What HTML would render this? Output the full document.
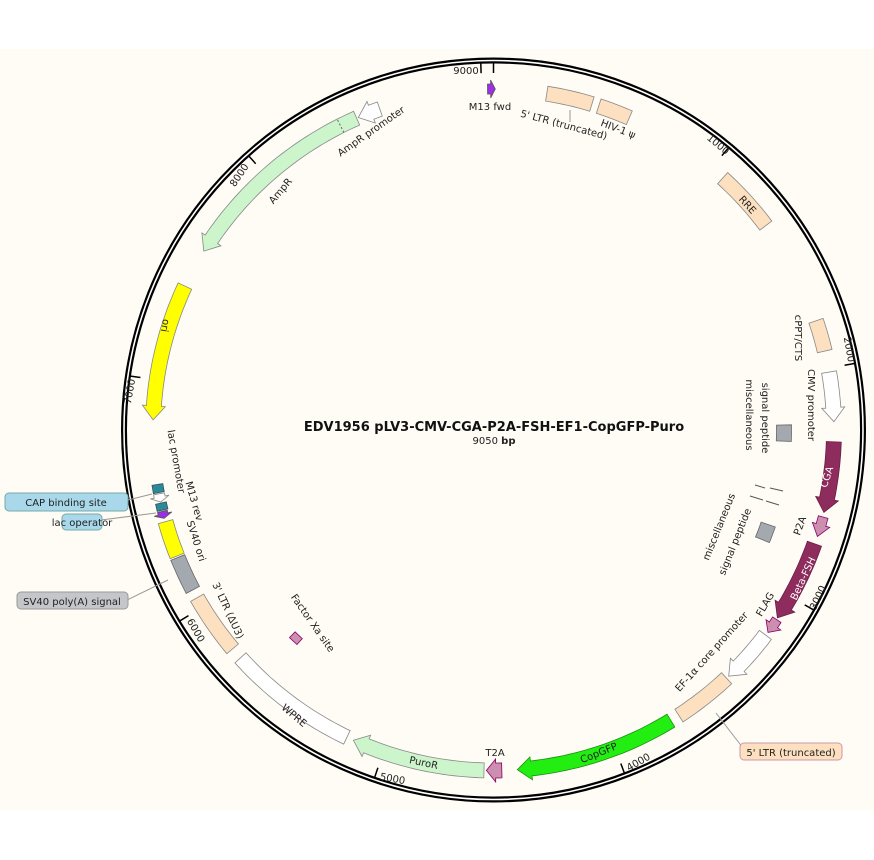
<!DOCTYPE html>
<html><head><meta charset="utf-8">
<style>
html,body{margin:0;padding:0;background:#fff;}
svg{display:block;}
text{font-family:"DejaVu Sans","Liberation Sans",sans-serif;font-size:10px;fill:#222;}
.w{fill:#fff;}
</style></head>
<body>
<svg id="s" width="874" height="860" viewBox="0 0 874 860" xmlns="http://www.w3.org/2000/svg">
<rect x="0" y="49" width="874" height="761" fill="#fffcf5"/>
<circle cx="493.5" cy="430" r="369.5" fill="none" stroke="#000" stroke-width="6"/>
<circle cx="493.5" cy="430" r="369.5" fill="none" stroke="#fff" stroke-width="1.6"/>
<g id="shapes"></g>
<g id="ticks" stroke="#000" stroke-width="1.5"></g>
<g stroke="#999" stroke-width="1" fill="none">
<line x1="128" y1="500" x2="152" y2="494"/>
<line x1="101" y1="520" x2="156" y2="513"/>
<line x1="127" y1="600" x2="168" y2="580"/>
<line x1="743" y1="748" x2="716" y2="713"/>
<line x1="570" y1="110" x2="570" y2="122"/>
</g>
<rect x="5" y="493" width="123" height="18" rx="4" fill="#a8d8ea" stroke="#7aa" />
<text x="66" y="506" text-anchor="middle">CAP binding site</text>
<rect x="62" y="514" width="40" height="16" rx="4" fill="#a8d8ea" stroke="#7aa"/>
<text x="82" y="526" text-anchor="middle">lac operator</text>
<rect x="17" y="592" width="111" height="17" rx="4" fill="#c4c6c9" stroke="#999"/>
<text x="72" y="605" text-anchor="middle">SV40 poly(A) signal</text>
<rect x="740" y="743" width="102" height="17" rx="4" fill="#fde0c0" stroke="#c9a"/>
<text x="791" y="756" text-anchor="middle">5' LTR (truncated)</text>

<text x="466" y="74" text-anchor="middle">9000</text>
<text x="490" y="110" text-anchor="middle">M13 fwd</text>
<text x="563" y="128" text-anchor="middle" transform="rotate(15 563 128)">5' LTR (truncated)</text>
<text x="617" y="132" text-anchor="middle" transform="rotate(21 617 132)">HIV-1 ψ</text>
<text x="716" y="147" text-anchor="middle" transform="rotate(40 716 147)">1000</text>
<text x="745" y="207" text-anchor="middle" transform="rotate(48 745 207)">RRE</text>
<text x="795" y="338" text-anchor="middle" transform="rotate(90 795 338)">cPPT/CTS</text>
<text x="846" y="350" text-anchor="middle" transform="rotate(80 846 350)">2000</text>
<text x="808" y="405" text-anchor="middle" transform="rotate(90 808 405)">CMV promoter</text>
<text x="762" y="418" text-anchor="middle" transform="rotate(90 762 418)">signal peptide</text>
<text x="746" y="415" text-anchor="middle" transform="rotate(90 746 415)">miscellaneous</text>
<text x="830" y="478" text-anchor="middle" class="w" transform="rotate(-72 830 478)">CGA</text>
<text x="803" y="527" text-anchor="middle" transform="rotate(-70 803 527)">P2A</text>
<text x="722" y="528" text-anchor="middle" transform="rotate(-68 722 528)">miscellaneous</text>
<text x="738" y="543" text-anchor="middle" transform="rotate(-68 738 543)">signal peptide</text>
<text x="806" y="580" text-anchor="middle" class="w" transform="rotate(-65 806 580)">Beta-FSH</text>
<text x="821" y="599" text-anchor="middle" transform="rotate(-65 821 599)">3000</text>
<text x="768" y="606" text-anchor="middle" transform="rotate(-60 768 606)">FLAG</text>
<text x="714" y="654" text-anchor="middle" transform="rotate(-48 714 654)">EF-1α core promoter</text>
<text x="640" y="765" text-anchor="middle" transform="rotate(-30 640 765)">4000</text>
<text x="600" y="756" text-anchor="middle" transform="rotate(-22 600 756)">CopGFP</text>
<text x="495" y="756" text-anchor="middle">T2A</text>
<text x="423" y="766" text-anchor="middle" transform="rotate(12 423 766)">PuroR</text>
<text x="392" y="782" text-anchor="middle" transform="rotate(10 392 782)">5000</text>
<text x="292" y="718" text-anchor="middle" transform="rotate(40 292 718)">WPRE</text>
<text x="310" y="625" text-anchor="middle" transform="rotate(55 310 625)">Factor Xa site</text>
<text x="193" y="632" text-anchor="middle" transform="rotate(60 193 632)">6000</text>
<text x="225" y="612" text-anchor="middle" transform="rotate(65 225 612)">3' LTR (ΔU3)</text>
<text x="193" y="542" text-anchor="middle" transform="rotate(72 193 542)">SV40 ori</text>
<text x="191" y="502" text-anchor="middle" transform="rotate(74 191 502)">M13 rev</text>
<text x="173" y="462" text-anchor="middle" transform="rotate(80 173 462)">lac promoter</text>
<text x="133" y="392" text-anchor="middle" transform="rotate(-80 133 392)">7000</text>
<text x="162" y="325" text-anchor="middle" transform="rotate(100 162 325)">ori</text>
<text x="283" y="193" text-anchor="middle" transform="rotate(-50 283 193)">AmpR</text>
<text x="242" y="177" text-anchor="middle" transform="rotate(-56 242 177)">8000</text>
<text x="373" y="134" text-anchor="middle" transform="rotate(-35 373 134)">AmpR promoter</text>

<text x="494" y="431" text-anchor="middle" style="font-size:13px;font-weight:bold;fill:#111">EDV1956 pLV3-CMV-CGA-P2A-FSH-EF1-CopGFP-Puro</text>
<text x="494" y="444" text-anchor="middle" style="font-size:10px">9050 <tspan font-weight="bold">bp</tspan></text>
</svg>
<script>
var cx=493.5,cy=430;
function P(a,r){var t=a*Math.PI/180;return [(cx+r*Math.sin(t)).toFixed(1),(cy-r*Math.cos(t)).toFixed(1)];}
function arcpts(a1,a2,r){var p=[],n=Math.max(2,Math.ceil(Math.abs(a2-a1)));for(var i=0;i<=n;i++)p.push(P(a1+(a2-a1)*i/n,r));return p;}
function feat(a1,a2,r1,r2,fill,dir,stroke){
 var hl=Math.min(Math.abs(a2-a1)*0.6,(14/((r1+r2)/2))*180/Math.PI);
 var pts=[];
 if(dir==0){pts=arcpts(a1,a2,r2).concat(arcpts(a2,a1,r1));}
 else if(dir==1){var b=a2-hl;pts=arcpts(a1,b,r2);pts.push(P(b,r2+4));pts.push(P(a2,(r1+r2)/2));pts.push(P(b,r1-4));pts=pts.concat(arcpts(b,a1,r1));}
 else {var b=a1+hl;pts=arcpts(b,a2,r2).concat(arcpts(a2,b,r1));pts.push(P(b,r1-4));pts.push(P(a1,(r1+r2)/2));pts.push(P(b,r2+4));}
 var d="M"+pts.map(function(p){return p.join(",")}).join("L")+"Z";
 return '<path d="'+d+'" fill="'+fill+'" stroke="'+(stroke||"#888")+'" stroke-width="0.8"/>';
}
var R1=333,R2=348,s="";
var pe="#fde0c0",gr="#a4a9b0",mr="#8e2c5e",pk="#cc8fb0";
s+=feat(-1,0.3,336,346,"#9b30e0",1,"#555");
s+=feat(9,16.8,R1,R2,pe,0);
s+=feat(18,23.5,R1,R2,pe,0);
s+=feat(42.3,53.1,R1,R2,pe,0);
s+=feat(71.3,76.6,R1,R2,pe,0);
s+=feat(80.2,88.6,R1,R2,"#fff",1);
s+=feat(89,92.2,283,298,gr,0,"#666");
s+=feat(109,112.2,283,298,gr,0,"#666");
s+=feat(92,104,R1,R2,mr,1,"#6a1f45");
s+=feat(104.8,108.2,336,346,pk,1,"#806");
s+=feat(109.5,123.5,R1,R2,mr,1,"#6a1f45");
s+=feat(123.8,126.4,336,346,pk,1,"#806");
s+=feat(127,136.3,R1,R2,"#fff",1);
s+=feat(136.8,147,R1,R2,pe,0);
s+=feat(148.6,176,R1,R2,"#22ee11",1,"#1a9010");
s+=feat(178.6,181.2,R1,R2,pk,1,"#806");
s+=feat(181.6,204.3,R1,R2,"#ccf5cc",1);
s+=feat(205.5,228,R1,R2,"#fff",0);
s+=feat(230,240.5,R1,R2,pe,0);
s+=feat(242,248,R1,R2,gr,0,"#666");
s+=feat(248.3,254.4,R1,R2,"#ffff00",0);
s+=feat(255,256.2,336,346,"#9b30e0",-1,"#555");
s+=feat(256.4,257.6,R1+2,R2-2,"#2a8a9a",0,"#355");
s+=feat(257.8,259.2,R1+2,R2-2,"#fff",-1);
s+=feat(259.4,260.8,R1+2,R2-2,"#2a8a9a",0,"#355");
s+=feat(271.7,295,R1,R2,"#ffff00",-1);
s+=feat(301.7,336.3,R1,R2,"#ccf5cc",-1);
s+=feat(336.6,340.5,R1,R2,"#fff",-1);
s+=feat(222.5,224.5,283,291,pk,0,"#806");
var d1=P(333.3,R1),d2=P(333.3,R2);s+='<line x1="'+d1[0]+'" y1="'+d1[1]+'" x2="'+d2[0]+'" y2="'+d2[1]+'" stroke="#666" stroke-dasharray="2,2"/>';
s+='<line x1="755" y1="485" x2="765" y2="488" stroke="#555"/><line x1="770" y1="488" x2="783" y2="491" stroke="#555"/><line x1="750" y1="496" x2="763" y2="500" stroke="#555"/><line x1="766" y1="501" x2="779" y2="505" stroke="#555"/>';
document.getElementById("shapes").innerHTML=s;
var t="";
for(var k=0;k<=9;k++){var a=k*1000/9050*360;var p1=P(a,367),p2=P(a,357);t+='<line x1="'+p1[0]+'" y1="'+p1[1]+'" x2="'+p2[0]+'" y2="'+p2[1]+'"/>';}
document.getElementById("ticks").innerHTML=t;
</script>
</body></html>
